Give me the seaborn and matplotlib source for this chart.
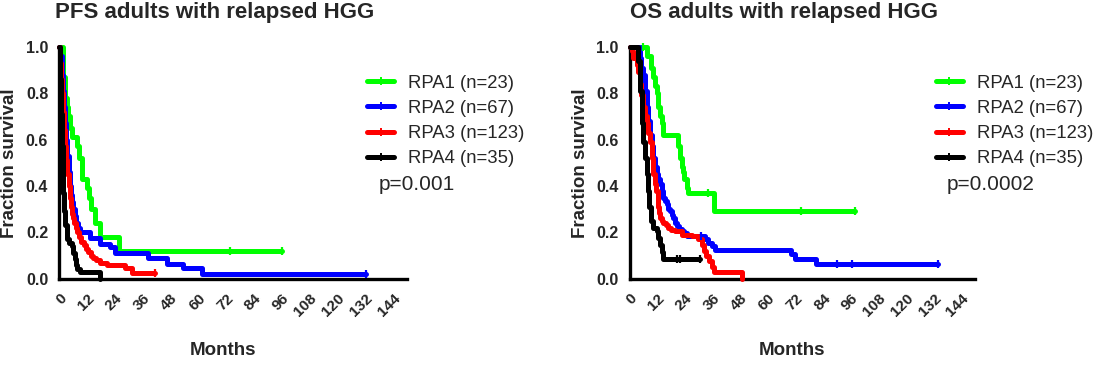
import numpy as np
import pandas as pd
import matplotlib
matplotlib.use("Agg")
import matplotlib.pyplot as plt
from matplotlib.lines import Line2D
import seaborn as sns

# Groupes RPA et couleurs
groups = ["RPA1 (n=23)", "RPA2 (n=67)", "RPA3 (n=123)", "RPA4 (n=35)"]
colors = ["#00ff00", "#0000ff", "#ff0000", "#000000"]

# --- PFS : courbes de Kaplan-Meier ---
pfs_rpa1_t = [0, 1.7, 2.5, 3.2, 3.9, 4.6, 5.3, 7.8, 8.5, 9.6, 12.0, 12.8, 13.5, 15.4, 17.5, 25.7]
pfs_rpa1_s = [1.0, 0.87, 0.78, 0.74, 0.70, 0.65, 0.61, 0.57, 0.52, 0.43, 0.39, 0.35, 0.30, 0.24, 0.18, 0.12]
pfs_rpa1_end = 96.3

pfs_rpa2_t = [0, 0.5, 1.0, 1.5, 2.0, 2.5, 3.0, 3.5, 4.0, 4.5, 5.0, 5.5, 6.0, 6.7, 7.3, 8.2, 9.0,
              13.3, 17.5, 21.8, 24.0, 38.4, 46.3, 53.5, 61.4]
pfs_rpa2_s = [1.0, 0.96, 0.88, 0.81, 0.74, 0.67, 0.60, 0.53, 0.46, 0.40, 0.36, 0.33, 0.30, 0.27, 0.24, 0.22, 0.20,
              0.175, 0.15, 0.135, 0.11, 0.09, 0.065, 0.045, 0.022]
pfs_rpa2_end = 132.6

pfs_rpa3_t = [0, 0.3, 0.7, 1.0, 1.5, 2.0, 2.5, 3.0, 3.5, 4.0, 4.5, 5.0, 5.5, 6.0, 6.5, 7.0, 7.5, 8.5, 9.5,
              10.5, 11.5, 12.5, 13.5, 14.5, 16.0, 17.5, 20.4, 28.3, 31.2]
pfs_rpa3_s = [1.0, 0.93, 0.86, 0.80, 0.72, 0.64, 0.57, 0.51, 0.45, 0.40, 0.35, 0.31, 0.28, 0.26, 0.24, 0.22, 0.20, 0.18, 0.16,
              0.145, 0.13, 0.115, 0.10, 0.09, 0.08, 0.066, 0.058, 0.045, 0.023]
pfs_rpa3_end = 41.5

pfs_rpa4_t = [0, 0.3, 0.6, 1.0, 1.4, 1.8, 2.2, 2.6, 3.2, 4.2, 5.3, 6.0, 6.7, 7.3, 7.8, 9.0, 17.5]
pfs_rpa4_s = [1.0, 0.86, 0.71, 0.57, 0.46, 0.37, 0.29, 0.23, 0.17, 0.155, 0.14, 0.11, 0.086, 0.057, 0.04, 0.029, 0.0]
pfs_rpa4_end = 17.5

# données censurées (PFS)
pfs_cens_t = [73.6, 96.3, 132.6, 41.5]
pfs_cens_s = [0.12, 0.12, 0.022, 0.023]
pfs_cens_g = [0, 0, 1, 2]

# --- OS ---
os_rpa1_t = [0, 7.2, 9.1, 10.1, 11.0, 11.6, 12.3, 13.0, 13.8, 14.5, 21.0, 21.7, 22.5, 23.0, 23.6, 24.6, 25.4, 36.5]
os_rpa1_s = [1.0, 0.96, 0.91, 0.87, 0.83, 0.80, 0.74, 0.70, 0.67, 0.62, 0.57, 0.52, 0.48, 0.46, 0.43, 0.39, 0.37, 0.29]
os_rpa1_end = 97.8

os_rpa2_t = [0, 4.3, 5.0, 5.8, 6.5, 7.2, 8.0, 8.7, 9.4, 10.1, 10.9, 11.6, 12.3, 13.0, 13.8, 14.5, 15.2, 15.9,
             16.7, 17.4, 18.1, 18.8, 19.6, 20.3, 21.4, 22.5, 23.6, 24.6, 32.5, 34.0, 35.5, 37.0, 70.1, 71.5, 81.0]
os_rpa2_s = [1.0, 0.95, 0.91, 0.88, 0.81, 0.74, 0.68, 0.62, 0.57, 0.52, 0.48, 0.45, 0.43, 0.41, 0.38, 0.35, 0.335, 0.32,
             0.30, 0.29, 0.275, 0.26, 0.24, 0.226, 0.215, 0.205, 0.195, 0.185, 0.17, 0.155, 0.14, 0.125, 0.105, 0.085, 0.065]
os_rpa2_end = 134.0

os_rpa3_t = [0, 0.7, 1.5, 2.9, 3.6, 4.3, 5.0, 5.8, 6.5, 7.2, 8.0, 8.7, 9.4, 10.1, 10.7, 11.2, 12.0, 12.5, 13.0,
             13.8, 14.5, 15.5, 16.7, 18.0, 19.6, 22.5, 26.8, 29.7, 31.2, 32.0, 33.0, 34.4, 35.5, 36.6, 48.5]
os_rpa3_s = [1.0, 0.98, 0.95, 0.92, 0.89, 0.84, 0.79, 0.74, 0.70, 0.67, 0.63, 0.59, 0.52, 0.45, 0.41, 0.38, 0.31, 0.285, 0.26,
             0.25, 0.24, 0.23, 0.22, 0.21, 0.205, 0.19, 0.183, 0.17, 0.147, 0.12, 0.10, 0.075, 0.05, 0.03, 0.0]
os_rpa3_end = 48.5

os_rpa4_t = [0, 3.3, 3.6, 4.3, 5.1, 5.8, 6.5, 7.2, 8.0, 8.4, 9.1, 10.1, 11.6, 12.3, 13.0, 13.8, 14.5]
os_rpa4_s = [1.0, 0.97, 0.94, 0.81, 0.67, 0.59, 0.52, 0.45, 0.38, 0.31, 0.25, 0.22, 0.205, 0.176, 0.147, 0.114, 0.086]
os_rpa4_end = 30.3

os_cens_t = [5.8, 33.7, 74.5, 97.8, 31.0, 89.8, 96.3, 134.0, 20.3, 21.7, 30.3]
os_cens_s = [1.0, 0.37, 0.29, 0.29, 0.185, 0.065, 0.065, 0.065, 0.086, 0.086, 0.086]
os_cens_g = [0, 0, 0, 0, 1, 1, 1, 1, 3, 3, 3]

xticks = list(range(0, 145, 12))
yticks = [0.0, 0.2, 0.4, 0.6, 0.8, 1.0]


def make_df(series):
    # construit un DataFrame long à partir des listes (t, s, fin)
    rows = []
    for name, (t, s, end) in zip(groups, series):
        t = list(t)
        s = list(s)
        if end > t[-1]:
            t.append(end)
            s.append(s[-1])
        for ti, si in zip(t, s):
            rows.append({"Months": ti, "Survival": si, "group": name})
    return pd.DataFrame(rows)


pfs_df = make_df([(pfs_rpa1_t, pfs_rpa1_s, pfs_rpa1_end), (pfs_rpa2_t, pfs_rpa2_s, pfs_rpa2_end),
                  (pfs_rpa3_t, pfs_rpa3_s, pfs_rpa3_end), (pfs_rpa4_t, pfs_rpa4_s, pfs_rpa4_end)])
os_df = make_df([(os_rpa1_t, os_rpa1_s, os_rpa1_end), (os_rpa2_t, os_rpa2_s, os_rpa2_end),
                 (os_rpa3_t, os_rpa3_s, os_rpa3_end), (os_rpa4_t, os_rpa4_s, os_rpa4_end)])

sns.set_style("white")
plt.rcParams["font.family"] = ["Liberation Sans", "DejaVu Sans"]

fig = plt.figure(figsize=(10.96, 3.65), dpi=100)
ax1 = fig.add_axes([0.0541, 0.2364, 0.317, 0.6356])
ax2 = fig.add_axes([0.5748, 0.2364, 0.315, 0.6356])

panels = [
    (ax1, pfs_df, pfs_cens_t, pfs_cens_s, pfs_cens_g, "PFS adults with relapsed HGG", "p=0.001"),
    (ax2, os_df, os_cens_t, os_cens_s, os_cens_g, "OS adults with relapsed HGG", "p=0.0002"),
]

for ax, df, ct, cs, cg, title, pval in panels:
    sns.lineplot(data=df, x="Months", y="Survival", hue="group", hue_order=groups,
                 palette=colors, estimator=None, drawstyle="steps-post",
                 linewidth=3.6, legend=False, ax=ax, clip_on=False, zorder=3)
    # marques de censure
    for t, s, g in zip(ct, cs, cg):
        ax.plot([t], [s], marker="|", markersize=6, markeredgewidth=1.6,
                color=colors[g], clip_on=False, zorder=4)

    ax.set_xlim(0, 150)
    ax.set_ylim(0, 1.0)
    ax.set_xticks(xticks)
    ax.set_xticklabels([str(v) for v in xticks], rotation=45, ha="right",
                       rotation_mode="anchor", fontsize=11, fontweight="bold")
    ax.set_yticks(yticks)
    ax.set_yticklabels([f"{v:.1f}" for v in yticks], fontsize=11.5, fontweight="bold")
    ax.tick_params(axis="both", direction="out", length=5, width=2.2, color="black", pad=3)
    ax.tick_params(axis="x", pad=4)

    sns.despine(ax=ax)
    for sp in ["left", "bottom"]:
        ax.spines[sp].set_linewidth(2.4)
        ax.spines[sp].set_color("black")

    ax.set_title(title, fontsize=16, fontweight="bold", x=0.447, y=1.147, va="center", pad=0)
    ax.set_xlabel("Months", fontsize=13.5, fontweight="bold", va="center")
    ax.xaxis.set_label_coords(0.47, -0.31)
    ax.set_ylabel("Fraction survival", fontsize=13.5, fontweight="bold", va="center")
    ax.yaxis.set_label_coords(-0.143, 0.5)

    handles = [Line2D([], [], color=c, linewidth=3.6, marker="|", markersize=6,
                      markeredgewidth=1.4) for c in colors]
    ax.legend(handles, groups, loc="upper left", bbox_to_anchor=(0.886, 0.88),
              frameon=False, fontsize=13.3, handlelength=1.45, handletextpad=0.75,
              labelspacing=0.45, borderpad=0, borderaxespad=0)
    ax.text(0.918, 0.404, pval, transform=ax.transAxes, fontsize=15, va="center", ha="left")

fig.savefig("out.png", dpi=100)
